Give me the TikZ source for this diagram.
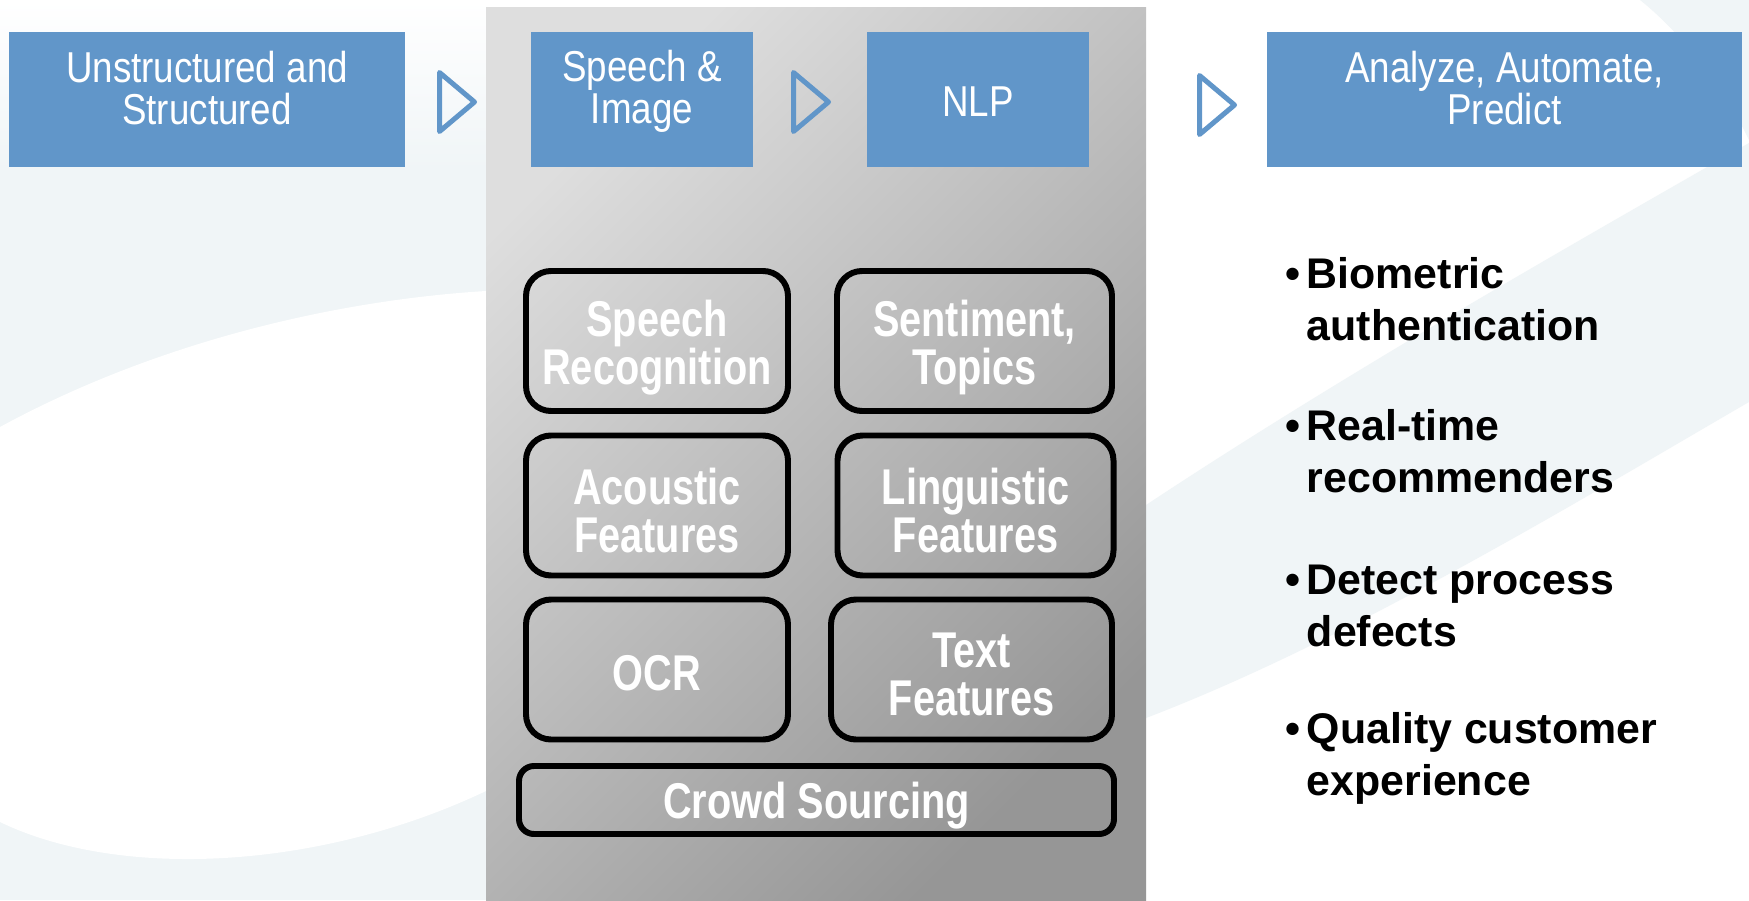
\documentclass[tikz,border=0pt]{standalone}
\usepackage{fontspec}
\setmainfont{Liberation Sans}
\newfontfamily\boxfont{Liberation Sans}[FakeStretch = 0.85]
\newfontfamily\stagefont{Liberation Sans}[FakeStretch = 0.79]
\usepackage{tikz}
\usetikzlibrary{positioning}
\definecolor{boxblue}{RGB}{97, 150, 201}
\definecolor{panelhi}{RGB}{222, 222, 222}
\definecolor{panello}{RGB}{150, 150, 150}
\definecolor{swirl}{RGB}{240, 245, 247}
\tikzset{
flow box/.style = { rectangle, draw = none, fill = boxblue, minimum height = 13.5mm, inner sep = 0pt },
flow text/.style = { white, align = center, inner sep = 0pt, font = \boxfont\fontsize{12.3}{12}\selectfont },
stage panel/.style = { rectangle, draw = none, inner sep = 0pt, top color = panelhi, bottom color = panello, shading angle = 45 },
stage box/.style = { rectangle, draw = black, line width = 1.7pt, rounded corners = 2.5mm, minimum height = 14mm, inner sep = 0pt },
stage text/.style = { white, align = center, inner sep = 0pt, font = \stagefont\bfseries\fontsize{14.3}{13.7}\selectfont },
use item/.style = { anchor = west, align = left, inner sep = 0pt, font = \bfseries\fontsize{12.2}{14.8}\selectfont },
}
\tikzset{
pics/next step/.style = {
        code = {
        \path[draw = boxblue, line width = 0.5mm, line join = round, line cap = round] (-0.175, 0.295) -- (0.175, 0.0) -- (-0.175, -0.295) -- cycle;
        }
    }
}

\begin{document}
\begin{tikzpicture}
      \useasboundingbox (0, 0) rectangle (17.49, 9.0);
      \fill[white] (0, 0) rectangle (17.49, 9.0);
      % background swirl
      \shade[top color = white, bottom color = swirl] (0, 7.3) rectangle (4.86, 9.0);
      \fill[swirl] (0, 0) rectangle (4.86, 7.3);
      \fill[white] (0, 4.73) .. controls (1.6, 5.6) and (3.4, 6.0) .. (4.86, 6.09) -- (4.86, 1.09) .. controls (3.2, 0.3) and (1.2, 0.2) .. (0, 0.78) -- cycle;
      \fill[swirl] (11.46, 3.95) .. controls (13.5, 5.3) and (15.8, 6.6) .. (17.49, 7.57) -- (17.49, 4.98) .. controls (15.8, 4.0) and (13.5, 2.6) .. (11.46, 1.82) -- cycle;
      \fill[swirl] (16.4, 9.0) .. controls (16.9, 8.6) and (17.3, 8.0) .. (17.49, 7.6) -- (17.49, 9.0) -- cycle;
      \node[stage panel, minimum width = 66mm, minimum height = 89.2mm] (panel) at (8.16, 4.46) {};

      \node[flow box, minimum width = 39.6mm] (src) at (2.07, 8.0) {};
      \node[flow box, minimum width = 22.2mm] (media) at (6.42, 8.0) {};
      \node[flow box, minimum width = 22.2mm] (nlp) at (9.78, 8.0) {};
      \node[flow box, minimum width = 47.5mm] (act) at (15.045, 8.0) {};
      \node[flow text] (src text) at ([yshift = 1.2mm]src.center) {Unstructured and\\Structured};
      \node[flow text] (media text) at ([yshift = 0.9mm]media.center) {Speech \&\\Image};
      \node[flow text] (nlp text) at ([yshift = -0.2mm]nlp.center) {NLP};
      \node[flow text] (act text) at ([yshift = 1.2mm]act.center) {Analyze, Automate,\\Predict};
      \draw (4.57, 7.98) pic{next step};
      \draw (8.11, 7.98) pic{next step};
      \draw (12.17, 7.95) pic{next step};

      \node[stage box, minimum width = 26.2mm] (asr) at (6.57, 5.59) {};
      \node[stage box, minimum width = 27.5mm] (topics) at (9.745, 5.59) {};
      \node[stage box, minimum width = 26.2mm] (acoustic) at (6.57, 3.945) {};
      \node[stage box, minimum width = 27.6mm] (linguistic) at (9.755, 3.945) {};
      \node[stage box, minimum width = 26.2mm] (ocr) at (6.57, 2.305) {};
      \node[stage box, minimum width = 28.1mm] (textfeat) at (9.715, 2.305) {};
      \node[stage box, minimum width = 59.5mm, minimum height = 6.8mm, rounded corners = 1.5mm] (crowd) at (8.165, 1.0) {};
      \node[stage text] (asr text) at ([yshift = -0.65mm]asr.center) {Speech\\Recognition};
      \node[stage text] (topics text) at ([yshift = -0.65mm]topics.center) {Sentiment,\\Topics};
      \node[stage text] (acoustic text) at ([yshift = -0.5mm]acoustic.center) {Acoustic\\Features};
      \node[stage text] (linguistic text) at ([yshift = -0.5mm]linguistic.center) {Linguistic\\Features};
      \node[stage text] (ocr text) at ([yshift = -0.35mm]ocr.center) {OCR};
      \node[stage text] (textfeat text) at ([yshift = -0.5mm]textfeat.center) {Text\\Features};
      \node[stage text] (crowd text) at ([yshift = -0.6mm]crowd.center) {Crowd Sourcing};

      \node[use item] (use1) at (12.85, 6.01) {\makebox[6pt][l]{\textbullet}Biometric\\\hspace*{6pt}authentication};
      \node[use item] (use2) at (12.85, 4.485) {\makebox[6pt][l]{\textbullet}Real-time\\\hspace*{6pt}recommenders};
      \node[use item] (use3) at (12.85, 2.945) {\makebox[6pt][l]{\textbullet}Detect process\\\hspace*{6pt}defects};
      \node[use item] (use4) at (12.85, 1.415) {\makebox[6pt][l]{\textbullet}Quality customer\\\hspace*{6pt}experience};
    \end{tikzpicture}
\end{document}
